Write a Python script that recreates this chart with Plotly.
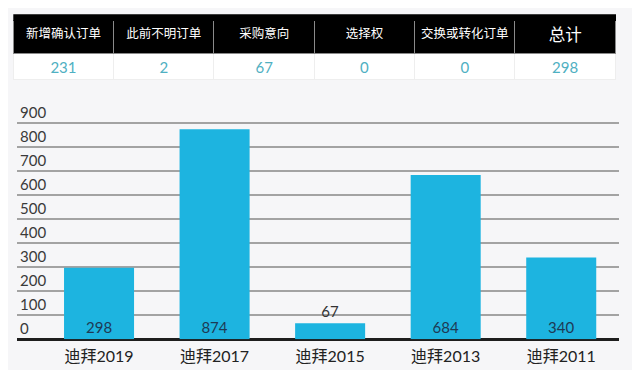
import plotly.graph_objects as go

# Table data
table_headers = ["新增确认订单", "此前不明订单", "采购意向", "选择权", "交换或转化订单", "总计"]
table_values = [231, 2, 67, 0, 0, 298]

# Bar data
categories = ["迪拜2019", "迪拜2017", "迪拜2015", "迪拜2013", "迪拜2011"]
orders = [298, 874, 67, 684, 340]
label_positions = ["inside", "inside", "outside", "inside", "inside"]
y_ticks = [0, 100, 200, 300, 400, 500, 600, 700, 800, 900]

# page body has an 8px margin, so the figure is laid out in page coords minus 8
OFF = 8
W, H = 640 - OFF, 370 - OFF
FONT = "Lato, 'Noto Sans CJK SC', sans-serif"
CJK = "'Noto Sans CJK SC', Lato, sans-serif"


def px_x(x):
    return (x - OFF) / W


def px_y(y):
    return 1 - (y - OFF) / H


fig = go.Figure()

fig.add_trace(go.Table(
    domain=dict(x=[px_x(13.3), px_x(616)], y=[0.5, px_y(20.3)]),
    columnwidth=[1] * len(table_headers),
    header=dict(
        values=table_headers,
        fill_color="#000000",
        line=dict(color="#8a8a8a", width=1),
        font=dict(color="white", family=CJK,
                  size=[12.5, 12.5, 12.5, 12.5, 12.5, 16.5]),
        align="center",
        height=33,
    ),
    cells=dict(
        values=[[v] for v in table_values],
        fill_color="#ffffff",
        line=dict(color="#eeeeee", width=1),
        font=dict(color="#4fb0c2", family=FONT, size=15),
        align="center",
        height=25.7,
    ),
))

fig.add_trace(go.Bar(
    x=categories,
    y=orders,
    marker=dict(color="#1db4e0", line=dict(width=0)),
    text=[str(v) for v in orders],
    textposition=label_positions,
    insidetextanchor="start",
    textfont=dict(family=FONT, size=15,
                  color=["#1d3a55" if p == "inside" else "#333333" for p in label_positions]),
    cliponaxis=False,
    hoverinfo="skip",
    xaxis="x", yaxis="y",
))

# black strip on top of the table header so the header text sits centred
fig.add_shape(type="rect", xref="paper", yref="paper",
              x0=px_x(13.3), x1=px_x(616), y0=px_y(21.0), y1=px_y(14.3),
              fillcolor="#000000", line=dict(width=0), layer="above")

fig.update_layout(
    width=W, height=H,
    margin=dict(l=0, r=0, t=0, b=0),
    paper_bgcolor="#f6f6f8",
    plot_bgcolor="rgba(0,0,0,0)",
    showlegend=False,
    bargap=0.394,
    xaxis=dict(
        domain=[px_x(17), px_x(619)],
        type="category",
        range=[-0.71, 4.5],
        showgrid=False,
        showline=False,
        zeroline=False,
        ticks="",
        ticklabelstandoff=6,
        tickfont=dict(family=FONT, size=16, color="#222222"),
        anchor="y",
    ),
    yaxis=dict(
        domain=[px_y(339.3), px_y(99)],
        range=[0, 1000],
        tickvals=y_ticks,
        ticklabelposition="inside top",
        showgrid=True,
        gridcolor="#a3a3a3",
        gridwidth=1.5,
        zeroline=True,
        zerolinecolor="#1e1e1e",
        zerolinewidth=2.5,
        showline=False,
        ticks="",
        tickfont=dict(family=FONT, size=15, color="#3a3a3a"),
        anchor="x",
    ),
)

fig.write_html("out.html")
